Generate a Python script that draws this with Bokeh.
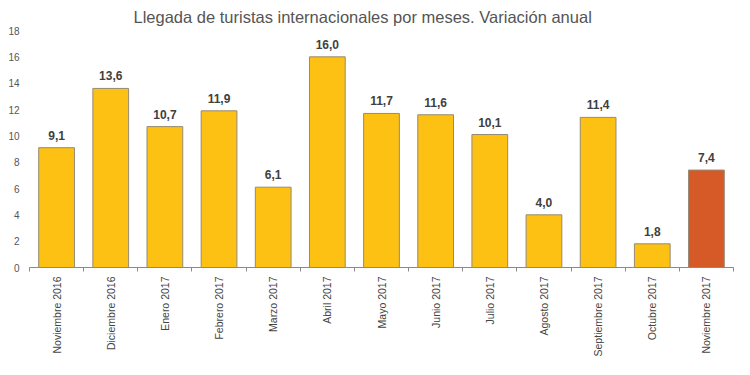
import math
from bokeh.plotting import figure
from bokeh.models import ColumnDataSource, Range1d, FixedTicker, Title, LabelSet
from bokeh.core.properties import value
from bokeh.embed import file_html
from bokeh.resources import INLINE

months = ["Noviembre 2016", "Diciembre 2016", "Enero 2017", "Febrero 2017",
          "Marzo 2017", "Abril 2017", "Mayo 2017", "Junio 2017", "Julio 2017",
          "Agosto 2017", "Septiembre 2017", "Octubre 2017", "Noviembre 2017"]
values = [9.1, 13.6, 10.7, 11.9, 6.1, 16.0, 11.7, 11.6, 10.1, 4.0, 11.4, 1.8, 7.4]
y_ticks = [0, 2, 4, 6, 8, 10, 12, 14, 16, 18]
title_text = "Llegada de turistas internacionales por meses. Variación anual"

n = len(months)
xs = [i + 0.5 for i in range(n)]
YELLOW = "#FDC113"
ORANGE = "#D65A28"
colors = [YELLOW] * (n - 1) + [ORANGE]
labels = [f"{v:.1f}".replace(".", ",") for v in values]

src = ColumnDataSource(dict(x=xs, top=values, color=colors, label=labels))

FONT = "Liberation Sans"

p = figure(width=734, height=359, output_backend="svg", toolbar_location=None,
           x_range=Range1d(0, n), y_range=Range1d(0, 18),
           min_border_left=29, min_border_right=1, min_border_top=0, min_border_bottom=0)

p.title = Title(text=title_text, align="left", offset=104, text_font=FONT,
                text_font_size="16.5px", text_font_style="normal", text_color="#555555",
                standoff=10)

p.vbar(x="x", top="top", bottom=0, width=0.66, source=src, fill_color="color",
       line_color="#958A74", line_width=1)

p.add_layout(LabelSet(x="x", y="top", text="label", source=src, text_align="center",
                      text_baseline="bottom", y_offset=8, text_font=value(FONT),
                      text_font_size=value("12px"), text_font_style="bold",
                      text_color="#404040"))

p.xgrid.visible = False
p.ygrid.visible = False
p.outline_line_color = None

# x axis: labels at category centres, ticks at category boundaries
xa = p.xaxis[0]
xa.ticker = FixedTicker(ticks=xs, minor_ticks=list(range(n + 1)))
xa.major_label_overrides = {x: m for x, m in zip(xs, months)}
xa.major_label_orientation = math.pi / 2
xa.major_tick_out = 0
xa.major_tick_in = 0
xa.minor_tick_out = 4
xa.minor_tick_in = 0
xa.minor_tick_line_color = "#8a8a8a"
xa.axis_line_color = "#8a8a8a"
xa.major_label_standoff = 5
xa.axis_label = None
xa.axis_label_standoff = 0
xa.major_label_text_font = FONT
xa.major_label_text_font_size = "10.5px"
xa.major_label_text_color = "#444444"

ya = p.yaxis[0]
ya.ticker = FixedTicker(ticks=y_ticks)
ya.axis_line_color = None
ya.major_tick_line_color = None
ya.minor_tick_line_color = None
ya.major_tick_out = 0
ya.minor_tick_out = 0
ya.major_label_standoff = 10
ya.axis_label = None
ya.major_label_text_font = FONT
ya.major_label_text_font_size = "10px"
ya.major_label_text_color = "#555555"

open("out.html", "w").write(file_html(p, INLINE))
